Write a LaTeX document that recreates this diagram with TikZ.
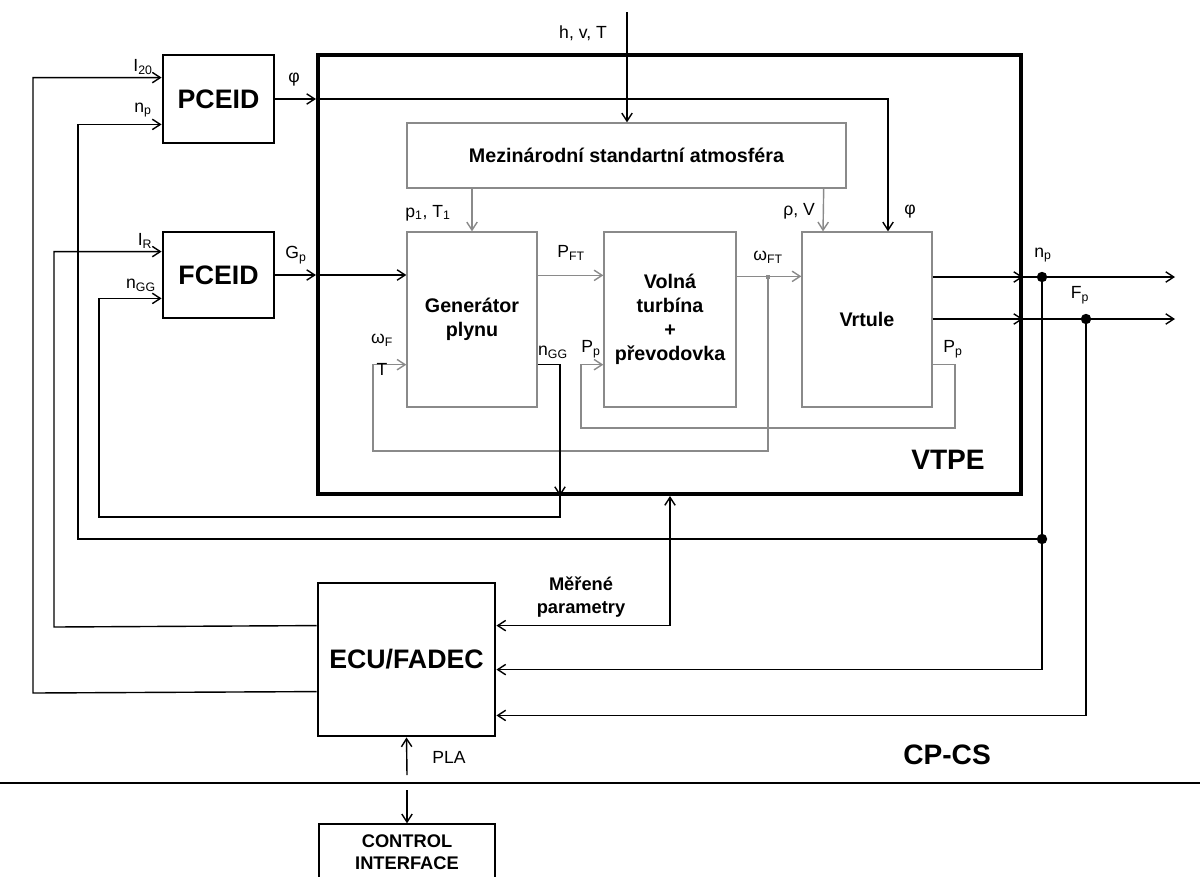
\documentclass[tikz,border=0pt]{standalone}
\usepackage{fontspec}
\setmainfont{Liberation Sans}
\usepackage{tikz}
\usetikzlibrary{positioning,arrows.meta,calc}
\definecolor{innerGray}{HTML}{8A8A8A}

\begin{document}
\begin{tikzpicture}[
  x=0.025cm,
  y=-0.025cm,
  ctrlbox/.style={draw=black, line width=2pt, inner sep=0pt, align=center,
    minimum width=2.775cm, minimum height=2.2cm, font=\fontsize{19}{22}\selectfont\bfseries},
  enginebox/.style={draw=black, line width=2.8pt, inner sep=0pt,
    minimum width=17.575cm, minimum height=10.975cm},
  subbox/.style={draw=innerGray, line width=0.9pt, inner sep=0pt, align=center,
    minimum width=3.25cm, minimum height=4.375cm, font=\fontsize{14}{17}\selectfont\bfseries},
  ifacebox/.style={draw=black, line width=1pt, inner sep=0pt, align=center,
    minimum width=4.4cm, minimum height=1.4cm, font=\fontsize{13}{15.5}\selectfont\bfseries},
  arrow/.style={-{Straight Barb[length=2mm,width=2.6mm]}, line width=1pt, draw=black},
  dblarrow/.style={{Straight Barb[length=2mm,width=2.6mm]}-{Straight Barb[length=2mm,width=2.6mm]}, line width=1pt, draw=black},
  grayarrow/.style={-{Straight Barb[length=2mm,width=2.6mm]}, line width=1pt, draw=innerGray},
  wire/.style={line width=1pt, draw=black},
  dot/.style={circle, fill=black, inner sep=0pt, minimum size=0.26cm},
  junction/.style={rectangle, fill=innerGray, inner sep=0pt, minimum size=0.11cm},
  lbl/.style={inner sep=0pt, font=\fontsize{12.5}{15}\selectfont},
  biglbl/.style={inner sep=0pt, font=\fontsize{20}{24}\selectfont\bfseries}
]
\useasboundingbox (0,0) rectangle (1200,876);

\node[ctrlbox] (pceid) at (218.5,99) {PCEID};
\node[ctrlbox, minimum height=2.15cm] (fceid) at (218.5,275) {FCEID};
\node[enginebox] (vtpe) at (669.5,274.5) {};
\node[subbox, minimum width=10.975cm, minimum height=1.625cm] (msa) at (626.5,155.5) {Mezinárodní standartní atmosféra};
\node[subbox] (gen) at (472,319.5) {Generátor\\plynu};
\node[subbox, minimum width=3.3cm] (volna) at (670,319.5) {Volná\\turbína\\+\\převodovka};
\node[subbox] (vrtule) at (867,319.5) {Vrtule};
\node[ctrlbox, minimum width=4.425cm, minimum height=3.825cm] (ecu) at (406.5,659.5) {ECU/FADEC};
\node[ifacebox] (ci) at (407,852) {CONTROL\\INTERFACE};

\node[biglbl] (vtpetxt) at (948,460) {VTPE};
\node[biglbl] (cpcs) at (947,755) {CP-CS};

\coordinate (hvt) at (627,12);
\draw[arrow] (hvt) -- (hvt |- msa.north);

\draw[arrow] (pceid.east) -- (pceid.east -| vtpe.west);
\draw[arrow] (pceid.east -| vtpe.west) -| ($(vrtule.north)+(21,0)$);
\draw[arrow] (fceid.east) -- (fceid.east -| vtpe.west);
\draw[arrow] (fceid.east -| vtpe.west) -- (fceid.east -| gen.west);

\draw[grayarrow] (msa.south -| gen.north) -- (gen.north);
\draw[grayarrow] ($(msa.south east)+(-23,0)$) -- ($(vrtule.north)+(-44,0)$);
\draw[grayarrow] ($(gen.north east)+(0,44)$) -- ($(volna.north west)+(0,44)$);
\draw[grayarrow] ($(volna.north east)+(0,45)$) -- ($(vrtule.north west)+(0,45)$);
\node[junction] (wft) at (768,277) {};

\coordinate (wfl) at (373,451);
\draw[grayarrow] (wft) |- (wfl) |- ($(gen.south west)+(0,-43)$);
\coordinate (ppr) at (955,428);
\coordinate (ppl) at (581,428);
\draw[grayarrow] ($(vrtule.south east)+(0,-43)$) -| (ppr) -- (ppl) |- ($(volna.south west)+(0,-43)$);

\coordinate (ngg) at (560,517);
\coordinate (nggl) at (99,517);
\draw[arrow] ($(gen.south east)+(0,-43)$) -| (ngg |- vtpe.south);
\draw[arrow] (ngg |- vtpe.south) -- (ngg) -- (nggl) |- ($(fceid.south west)+(0,-21)$);

\coordinate (npend) at (1175,277);
\coordinate (fpend) at (1175,319);
\draw[arrow] (vrtule.east |- npend) -- (vtpe.east |- npend);
\draw[arrow] (vtpe.east |- npend) -- (npend);
\draw[arrow] (vrtule.east |- fpend) -- (vtpe.east |- fpend);
\draw[arrow] (vtpe.east |- fpend) -- (fpend);
\node[dot] (npdot) at (1042,277) {};
\node[dot] (npfb) at (1042,539) {};
\node[dot] (fpdot) at (1086,319) {};
\draw[wire] (npdot) -- (npfb);
\draw[arrow] (npfb) |- ($(ecu.north east)+(0,88)$);
\coordinate (npl) at (78,539);
\draw[arrow] (npfb) -- (npl) |- ($(pceid.south west)+(0,-20)$);
\draw[arrow] (fpdot) |- ($(ecu.south east)+(0,-22)$);

\coordinate (mp) at (670,627);
\draw[dblarrow] (mp |- vtpe.south) |- ($(ecu.north east)+(0,44)$);

\coordinate (irl) at (54,627);
\draw[arrow] ($(ecu.north west)+(0,44)$) -- (irl) |- ($(fceid.north west)+(0,21)$);
\coordinate (i20l) at (33,693);
\draw[arrow] ($(ecu.north west)+(0,110)$) -- (i20l) |- ($(pceid.north west)+(0,24)$);

\coordinate (plaup) at (407,775);
\coordinate (pladn) at (407,790);
\draw[arrow] (plaup) -- (ecu.south);
\draw[arrow] (pladn) -- (ci.north);
\coordinate (sepl) at (0,783);
\coordinate (sepr) at (1200,783);
\draw[line width=2pt] (sepl) -- (sepr);

\node[lbl] (lhvt) at (583,33) {h, v, T};
\node[lbl] (li20) at (143,67) {I\textsubscript{20}};
\node[lbl] (lnp1) at (143,110) {n\textsubscript{p}};
\node[lbl] (lir) at (145,241) {I\textsubscript{R}};
\node[lbl] (lngg1) at (141,285) {n\textsubscript{GG}};
\node[lbl] (lphi1) at (294,80) {φ};
\node[lbl] (lgp) at (296,255) {G\textsubscript{p}};
\node[lbl] (lpt) at (428,213) {p\textsubscript{1}, T\textsubscript{1}};
\node[lbl] (lrv) at (799,211) {ρ, V};
\node[lbl] (lphi2) at (910,212) {φ};
\node[lbl] (lpft) at (571,253) {P\textsubscript{FT}};
\node[lbl] (lwft) at (768,257) {ω\textsubscript{FT}};
\node[lbl] (lwf) at (382,340) {ω\textsubscript{F}};
\node[lbl] (lt) at (382,369) {T};
\node[lbl] (lngg2) at (553,352) {n\textsubscript{GG}};
\node[lbl] (lpp1) at (591,349) {P\textsubscript{p}};
\node[lbl] (lpp2) at (953,349) {P\textsubscript{p}};
\node[lbl] (lnp2) at (1043,255) {n\textsubscript{p}};
\node[lbl] (lfp) at (1080,295) {F\textsubscript{p}};
\node[lbl] (lpla) at (449,757) {PLA};
\node[lbl, align=center, font=\fontsize{13}{16}\selectfont\bfseries] (lmp) at (581,597) {Měřené\\parametry};
\end{tikzpicture}
\end{document}
